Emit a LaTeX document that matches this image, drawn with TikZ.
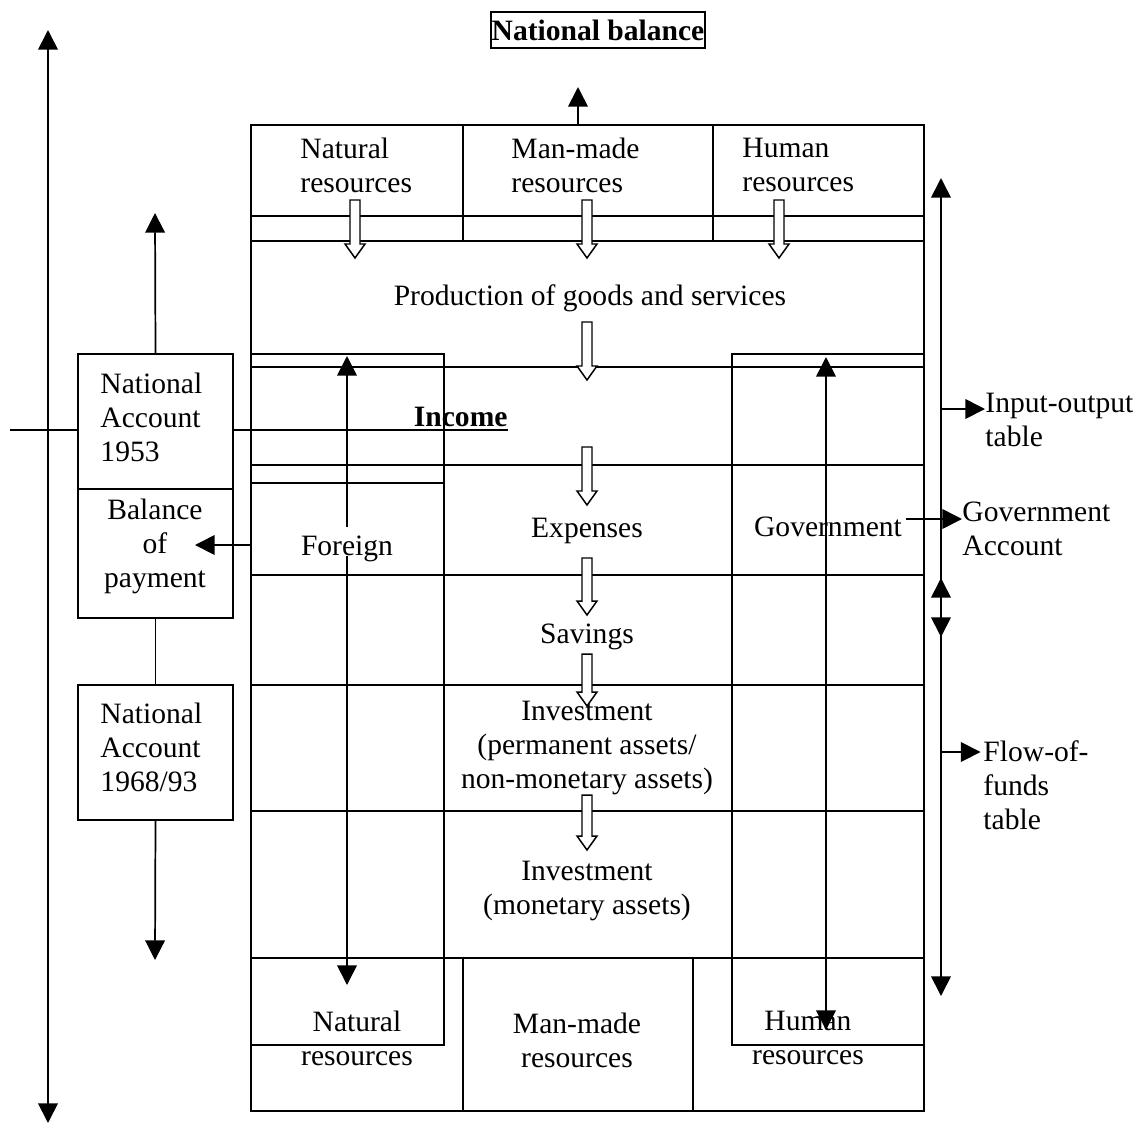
\documentclass[tikz,border=0pt]{standalone}
\usepackage{fontspec}
\setmainfont{Liberation Serif}
\usetikzlibrary{arrows.meta}
\newcommand{\hollowdown}[3]{%
  \draw[hollow] (#1-5,#2) -- (#1+5,#2) -- (#1+5,#3-14) -- (#1+10,#3-14)
    -- (#1,#3) -- (#1-10,#3-14) -- (#1-5,#3-14) -- cycle;}
\begin{document}
\begin{tikzpicture}[x=0.406pt,y=-0.406pt,
  every node/.style={font=\fontsize{12pt}{13.8pt}\selectfont, inner sep=0pt},
  frame/.style={draw, line width=0.6pt},
  grid/.style={line width=0.6pt},
  arr/.style={line width=0.7pt, -{Triangle[length=8pt,width=8pt]}},
  dbl/.style={line width=0.7pt, {Triangle[length=8pt,width=8pt]}-{Triangle[length=8pt,width=8pt]}},
  hollow/.style={draw, fill=white, line width=0.6pt, line join=miter},
  lbl/.style={align=left, anchor=west},
  ctr/.style={align=center},
  sidebox/.style={draw, line width=0.6pt, minimum width=155*0.406pt},
  bold/.style={font=\fontsize{12pt}{13.8pt}\selectfont\bfseries}
]
\useasboundingbox (0,0) rectangle (1135,1124);

% heading
\node[draw, line width=0.6pt, bold, minimum width=214*0.406pt,
      minimum height=36*0.406pt] (title) at (598,30) {National balance};

% outer frame of the accounting scheme
\node[frame, minimum width=673*0.406pt, minimum height=986*0.406pt] (main) at (587.5,618) {};

% rows and columns
\foreach \y in {216,241,367,465,575,685,811,958} \draw[grid] (251,\y) -- (924,\y);
\foreach \x in {463,713} \draw[grid] (\x,125) -- (\x,241);
\foreach \x in {463,693} \draw[grid] (\x,958) -- (\x,1111);
\draw[grid] (251,354) rectangle (444,1045);
\draw[grid] (732,354) rectangle (924,1045);
\draw[grid] (251,483) -- (444,483);

% side boxes
\node[sidebox, minimum height=135*0.406pt] (na1953) at (155.5,421.5) {};
\node[sidebox, minimum height=129*0.406pt] (bop) at (155.5,553.5) {};
\node[sidebox, minimum height=135*0.406pt] (na6893) at (155.5,752.5) {};

% texts in the scheme
\node[lbl] (natT) at (300,165) {Natural\\resources};
\node[lbl] (manT) at (511,165) {Man-made\\resources};
\node[lbl] (humT) at (742,165) {Human\\resources};
\node[ctr] (prod) at (590,298) {Production of goods and services};
\node[anchor=base east, bold] (income) at (508,426) {Income};
\node[ctr] (exp) at (587,531) {Expenses};
\node[ctr] (foreign) at (347,549) {Foreign};
\node[ctr] (gov) at (828,527) {Government};
\node[ctr] (sav) at (587,637) {Savings};
\node[ctr] (inv1) at (587,748) {Investment\\(permanent assets/\\non-monetary assets)};
\node[ctr] (inv2) at (587,891) {Investment\\(monetary assets)};
\node[ctr] (natB) at (357,1038) {Natural\\resources};
\node[ctr] (manB) at (577,1040) {Man-made\\resources};
\node[ctr] (humB) at (808,1038) {Human\\resources};

% texts in the side boxes
\node[lbl] (na1953t) at (100,417) {National\\Account\\1953};
\node[ctr] (bopt) at (155,546) {Balance\\of\\payment};
\node[lbl] (na6893t) at (100,747) {National\\Account\\1968/93};

% labels on the right
\node[lbl] (io) at (985,420) {Input-output\\table};
\node[lbl] (govacc) at (962,529) {Government\\Account};
\node[lbl] (fof) at (983,785) {Flow-of-\\funds\\table};

% free ends of connectors
\coordinate (topT) at (578,87);
\coordinate (leftTop) at (48,30);
\coordinate (leftBot) at (48,1123);
\coordinate (upT) at (155,213);
\coordinate (downT) at (155,960);
\coordinate (incL) at (10,430);
\coordinate (incR) at (508,430);
\coordinate (bopS) at (251,545);
\coordinate (bopT) at (195,545);
\coordinate (fU) at (347,527);
\coordinate (fTop) at (347,356);
\coordinate (fD) at (347,556);
\coordinate (fBot) at (347,985);
\coordinate (gTop) at (826,357);
\coordinate (gBot) at (826,1030);
\coordinate (ioTop) at (941,178);
\coordinate (ioBot) at (941,637);
\coordinate (ffTop) at (941,578);
\coordinate (ffBot) at (941,996);
\coordinate (ioS) at (941,409);
\coordinate (ffS) at (941,752);
\coordinate (govS) at (906,519);

% connectors
\draw[arr] (main.north -| topT) -- (topT);
\draw[dbl] (leftBot) -- (leftTop);
\draw[line width=1.1pt] (incL) -- (na1953.west |- incL);
\draw[line width=1.1pt] (na1953.east |- incL) -- (incR);
\draw[arr] (na1953.north) -- (upT);
\draw[arr] (na6893.south) -- (downT);
\draw[grid] (bop.south) -- (na6893.north);
\draw[arr] (bopS) -- (bopT);
\draw[arr] (fU) -- (fTop);
\draw[arr] (fD) -- (fBot);
\draw[dbl] (gBot) -- (gTop);
\draw[dbl] (ioBot) -- (ioTop);
\draw[dbl] (ffTop) -- (ffBot);
\draw[arr] (ioS) -- (io.west |- ioS);
\draw[arr] (ffS) -- ([xshift=-1pt]fof.west |- ffS);
\draw[arr] (govS) -- (govacc.west |- govS);

% hollow flow arrows
\hollowdown{355}{200}{258}
\hollowdown{587}{200}{258}
\hollowdown{779}{200}{258}
\hollowdown{587}{322}{380}
\hollowdown{587}{447}{505}
\hollowdown{587}{558}{615}
\hollowdown{587}{654}{706}
\hollowdown{587}{795}{850}
\end{tikzpicture}
\end{document}
